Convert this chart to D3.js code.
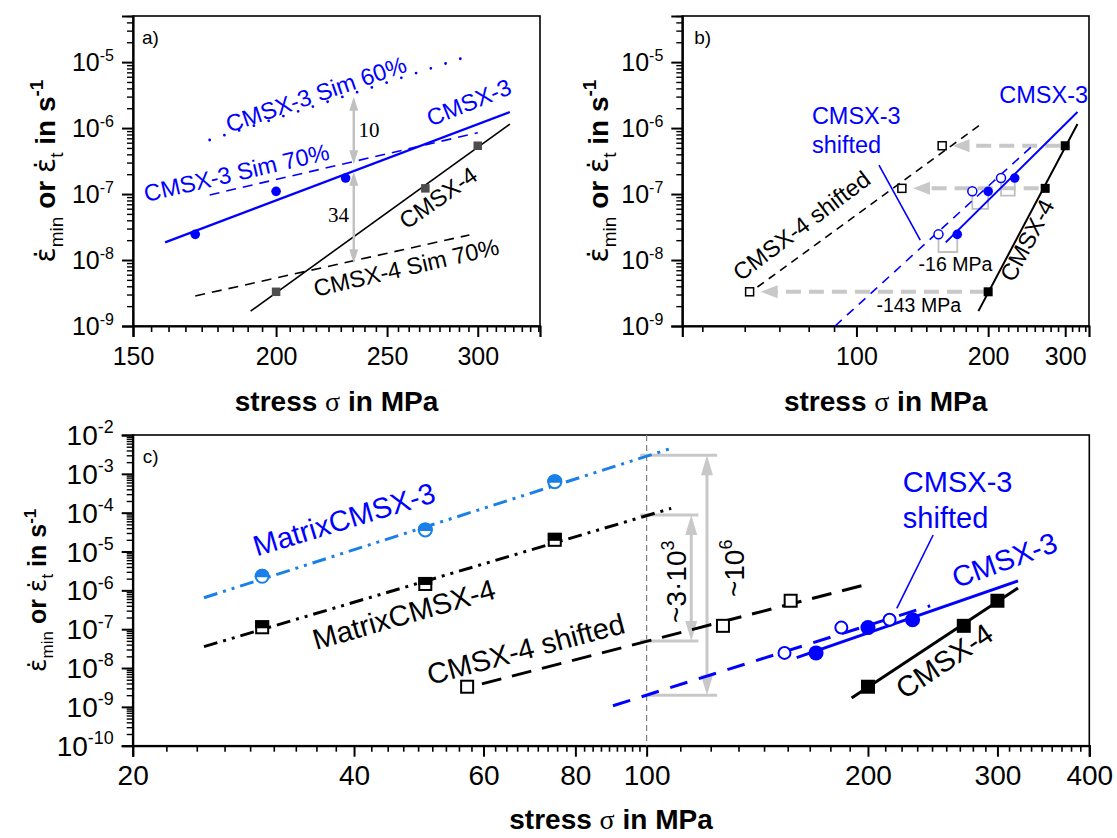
<!DOCTYPE html>
<html><head><meta charset="utf-8">
<script src="https://cdn.jsdelivr.net/npm/d3@7"></script>
<style>
body{margin:0;background:#fff;}
svg{display:block;font-family:"Liberation Sans",Arial,sans-serif;}
text{white-space:pre;}
</style></head><body>
<svg id="chart" width="1117" height="838"></svg>
<script>
// ===================== DATA =====================
// measured minimum creep rates (1/s) vs stress (MPa)
const cmsx3Stress = [170, 200, 230];
const cmsx3Rate   = [2.45e-8, 1.1e-7, 1.75e-7];
const cmsx4Stress = [200, 270, 300];
const cmsx4Rate   = [3.3e-9, 1.22e-7, 5.4e-7];
const cmsx3ShiftStress = [154, 184, 214];   // CMSX-3 shifted by -16 MPa
const cmsx4ShiftStress = [57, 127, 157];    // CMSX-4 shifted by -143 MPa
const matrix3Stress = [30, 50, 75];
const matrix3Rate   = [2.3e-6, 3.6e-5, 6.3e-4];
const matrix4Stress = [30, 50, 75];
const matrix4Rate   = [1.12e-7, 1.46e-6, 2.0e-5];

// fitted / simulated lines (end points)
const cmsx3FitStress = [160, 320];   const cmsx3FitRate = [1.85e-8, 1.75e-6];
const cmsx4FitStress = [190, 320];   const cmsx4FitRate = [1.68e-9, 1.15e-6];
const sim60C3Stress  = [175, 293];   const sim60C3Rate  = [6.6e-7, 1.2e-5];
const sim70C3Stress  = [175, 300];   const sim70C3Rate  = [9.7e-8, 8.5e-7];
const sim70C4Stress  = [170, 295];   const sim70C4Rate  = [2.85e-9, 2.4e-8];
const c3ShiftFitStressB = [89.4, 251];   const c3ShiftFitRateB = [1.0e-9, 5.2e-7];
const c4ShiftFitStressB = [59.4, 195.5]; const c4ShiftFitRateB = [3.9e-9, 1.23e-6];
const c3ShiftFitStressC = [90, 243];     const c3ShiftFitRateC = [1.07e-9, 4.0e-7];
const c4ShiftFitStressC = [59.7, 200];   const c4ShiftFitRateC = [3.9e-9, 1.45e-6];
const matrix3FitStress = [25, 108];  const matrix3FitRate = [6.46e-7, 4.54e-3];
const matrix4FitStress = [25, 108];  const matrix4FitRate = [3.55e-8, 1.29e-4];

// annotation values
const ratioArrowA = {stress: 233.8, upper: [2.98e-6, 2.82e-7], lower: [2.18e-7, 8.9e-9]};
const shiftArrowFrom = [196.6, 260.9, 292.2];
const shiftArrowTo   = [60.4, 134.7, 165.8];
const levelsC = [3.0e-3, 8.7e-5, 5.0e-8, 2.0e-9];

// tick labels
const xMajorA = [150, 200, 250, 300];
const xMajorB = [100, 200, 300];
const xMajorC = [20, 40, 60, 80, 100, 200, 300, 400];
const yExpAB = [-9, -8, -7, -6, -5];
const yExpC  = [-10, -9, -8, -7, -6, -5, -4, -3, -2];

// ===================== DRAWING =====================
const svg = d3.select("#chart");
const BLUE = "#0000ff", LBLUE = "#1a80e8";

function minorBetween(majors, lo, hi, n){
  const out = [];
  for (let i = 0; i < majors.length - 1; i++){
    const a = majors[i], b = majors[i+1], st = (b - a) / 9;
    for (let k = 1; k < 9; k++) out.push(a + k*st);
  }
  const st0 = n.before, st1 = n.after;
  for (let v = majors[0] - st0; v > lo; v -= st0) out.push(v);
  for (let v = majors[majors.length-1] + st1; v < hi; v += st1) out.push(v);
  return out.filter(v => v > lo && v < hi);
}
function yMinor(lo, hi){
  const out = [];
  for (let e = lo; e < hi; e++) for (let k = 2; k <= 9; k++) out.push(k*Math.pow(10,e));
  return out;
}

function panel(o){
  const x = d3.scaleLog().domain(o.xDomain).range(o.xRange);
  const y = d3.scaleLog().domain(o.yDomain).range(o.yRange);
  const g = svg.append("g");
  g.append("rect").attr("x", o.xRange[0]).attr("y", o.yRange[1])
    .attr("width", o.xRange[1]-o.xRange[0]).attr("height", o.yRange[0]-o.yRange[1])
    .attr("fill","none").attr("stroke","#000").attr("stroke-width",1.6);
  const b = o.yRange[0], l = o.xRange[0];
  g.append("g").attr("transform",`translate(0,${b})`)
    .call(d3.axisBottom(x).tickValues(o.xMinor).tickSize(6).tickFormat(""))
    .call(s=>{s.select(".domain").remove(); s.selectAll("line").attr("stroke-width",1.6);});
  g.append("g").attr("transform",`translate(0,${b})`)
    .call(d3.axisBottom(x).tickValues(o.xMajor).tickSize(11).tickPadding(o.xPad).tickFormat(d=>d))
    .call(s=>{s.select(".domain").attr("stroke-width",2.2);
      s.selectAll("line").attr("stroke-width",2);
      s.selectAll("text").attr("font-size",o.tickFs).attr("font-family","Liberation Sans, Arial, sans-serif").attr("fill","#000");});
  g.append("g").attr("transform",`translate(${l},0)`)
    .call(d3.axisLeft(y).tickValues(o.yMinor.filter(v=>v<=o.yDomain[1]*1.0001)).tickSize(6).tickFormat(""))
    .call(s=>{s.select(".domain").remove(); s.selectAll("line").attr("stroke-width",1.4);});
  const yMaj = o.yExp.map(e=>Math.pow(10,e));
  g.append("g").attr("transform",`translate(${l},0)`)
    .call(d3.axisLeft(y).tickValues(yMaj).tickSize(11).tickFormat(""))
    .call(s=>{s.select(".domain").attr("stroke-width",2.2); s.selectAll("line").attr("stroke-width",2);});
  const fs = o.tickFs;
  o.yExp.forEach(e=>{
    const t = g.append("text").attr("x", l - o.yLabGap).attr("y", y(Math.pow(10,e)) + fs*0.36)
      .attr("text-anchor","end").attr("font-size",fs);
    t.append("tspan").text("10");
    t.append("tspan").attr("font-size",fs*0.64).attr("dy",-fs*0.42).text("" + e);
  });
  const xt = svg.append("text").attr("x",(o.xRange[0]+o.xRange[1])/2).attr("y",o.xTitleY)
    .attr("text-anchor","middle").attr("font-size",o.titleFs).attr("font-weight","bold");
  xt.append("tspan").text("stress ");
  xt.append("tspan").attr("font-weight","normal").attr("font-family","Liberation Serif, serif").text("σ");
  xt.append("tspan").text(" in MPa");
  const yf = o.yTitleFs;
  const yt = svg.append("text").attr("transform",`translate(${o.yTitleX},${(o.yRange[0]+o.yRange[1])/2}) rotate(-90)`)
    .attr("text-anchor","middle").attr("font-size",yf).attr("font-weight","bold");
  yt.append("tspan").attr("font-weight","normal").attr("font-family","DejaVu Sans, sans-serif").text("ε\u0307");
  yt.append("tspan").attr("font-weight","normal").attr("font-size",yf*0.68).attr("dy",yf*0.28).text("min");
  yt.append("tspan").attr("dy",-yf*0.28).text(" or ");
  yt.append("tspan").attr("font-weight","normal").attr("font-family","DejaVu Sans, sans-serif").text("ε\u0307");
  yt.append("tspan").attr("font-weight","normal").attr("font-size",yf*0.68).attr("dy",yf*0.28).text("t");
  yt.append("tspan").attr("dy",-yf*0.28).text(" in s");
  yt.append("tspan").attr("font-size",yf*0.68).attr("dy",-yf*0.42).text("-1");
  svg.append("text").attr("x",o.xRange[0]+o.letterDx).attr("y",o.yRange[1]+o.letterDy)
    .attr("font-size",o.letterFs).text(o.letter);
  const plot = g.append("g");
  return {x, y, g: plot};
}

function line(P, xs, ys, color, width, dash, cap){
  const pts = xs.map((v,i)=>[v, ys[i]]);
  P.g.append("path").datum(pts)
    .attr("d", d3.line().x(d=>P.x(d[0])).y(d=>P.y(d[1])))
    .attr("fill","none").attr("stroke",color).attr("stroke-width",width)
    .attr("stroke-dasharray", dash || null).attr("stroke-linecap", cap || "butt");
}
function circles(P, xs, ys, r, color, open, sw){
  P.g.selectAll(null).data(xs.map((v,i)=>[v, ys[i]])).enter().append("circle")
    .attr("cx",d=>P.x(d[0])).attr("cy",d=>P.y(d[1])).attr("r",r)
    .attr("fill", open ? "#fff" : color).attr("stroke", color).attr("stroke-width", open ? sw : 0);
}
function squares(P, xs, ys, s, color, open, sw){
  P.g.selectAll(null).data(xs.map((v,i)=>[v, ys[i]])).enter().append("rect")
    .attr("x",d=>P.x(d[0])-s/2).attr("y",d=>P.y(d[1])-s/2).attr("width",s).attr("height",s)
    .attr("fill", open ? "#fff" : color).attr("stroke", color).attr("stroke-width", open ? sw : 0);
}
function halfCircles(P, xs, ys, r, color, sw){
  const d = xs.map((v,i)=>[v, ys[i]]);
  const gg = P.g.selectAll(null).data(d).enter().append("g")
    .attr("transform",p=>`translate(${P.x(p[0])},${P.y(p[1])})`);
  gg.append("circle").attr("r",r).attr("fill","#fff").attr("stroke",color).attr("stroke-width",sw);
  gg.append("path").attr("d",`M${-r},0A${r},${r} 0 0 1 ${r},0Z`).attr("fill",color).attr("stroke",color).attr("stroke-width",sw);
}
function halfSquares(P, xs, ys, s, color, sw){
  const d = xs.map((v,i)=>[v, ys[i]]);
  const gg = P.g.selectAll(null).data(d).enter().append("g")
    .attr("transform",p=>`translate(${P.x(p[0])},${P.y(p[1])})`);
  gg.append("rect").attr("x",-s/2).attr("y",-s/2).attr("width",s).attr("height",s).attr("fill","#fff").attr("stroke",color).attr("stroke-width",sw);
  gg.append("rect").attr("x",-s/2).attr("y",-s/2).attr("width",s).attr("height",s/2).attr("fill",color).attr("stroke",color).attr("stroke-width",sw);
}
function label(P, txt, s, r, angle, color, fs, family){
  const t = P.g.append("text").attr("transform",`translate(${P.x(s)},${P.y(r)}) rotate(${angle})`)
    .attr("font-size",fs).attr("fill",color);
  if (family) t.attr("font-family",family);
  if (Array.isArray(txt)) txt.forEach((ln,i)=>t.append("tspan").attr("x",0).attr("dy",i? fs*1.25 : 0).text(ln));
  else t.text(txt);
  return t;
}
function head(P, tx, ty, dx, dy, len, wid, color){
  const bx = tx - dx*len, by = ty - dy*len, nx = -dy, ny = dx;
  P.g.append("polygon").attr("points",
    `${tx},${ty} ${bx+nx*wid/2},${by+ny*wid/2} ${bx-nx*wid/2},${by-ny*wid/2}`).attr("fill",color);
}
function vDoubleArrow(P, s, r1, r2, color, w, len, wid){
  const xx = P.x(s), y1 = P.y(r1), y2 = P.y(r2);
  P.g.append("line").attr("x1",xx).attr("x2",xx).attr("y1",y1+len*0.8).attr("y2",y2-len*0.8)
    .attr("stroke",color).attr("stroke-width",w);
  head(P, xx, y1, 0, -1, len, wid, color);
  head(P, xx, y2, 0, 1, len, wid, color);
}

// ---------------- panel a ----------------
const A = panel({
  xDomain:[150,340], xRange:[133,540], yDomain:[1e-9,5e-5], yRange:[326,16],
  xMajor:xMajorA, xMinor:minorBetween(xMajorA,150,340,{before:50/9, after:50/9}),
  yExp:yExpAB, yMinor:yMinor(-9,-4), tickFs:25, xPad:10, yLabGap:19,
  titleFs:28, xTitleY:411, yTitleFs:28, yTitleX:55,
  letter:"a)", letterDx:9, letterDy:28, letterFs:19
});
line(A, sim60C3Stress, sim60C3Rate, BLUE, 2.8, "0,15.5", "round");
line(A, sim70C3Stress, sim70C3Rate, BLUE, 1.6, "10,7");
line(A, sim70C4Stress, sim70C4Rate, "#000", 1.6, "10,7");
line(A, cmsx3FitStress, cmsx3FitRate, BLUE, 2.2);
line(A, cmsx4FitStress, cmsx4FitRate, "#000", 1.6);
squares(A, cmsx4Stress, cmsx4Rate, 8.5, "#4d4d4d");
circles(A, cmsx3Stress, cmsx3Rate, 4.8, BLUE);
vDoubleArrow(A, ratioArrowA.stress, ratioArrowA.upper[0], ratioArrowA.upper[1], "#c0c0c0", 2.4, 14, 9);
vDoubleArrow(A, ratioArrowA.stress, ratioArrowA.lower[0], ratioArrowA.lower[1], "#c0c0c0", 2.4, 14, 9);
label(A, "10", 236, 7.4e-7, 0, "#000", 21, "Liberation Serif, serif");
label(A, "34", 222, 3.8e-8, 0, "#000", 21, "Liberation Serif, serif");
label(A, "CMSX-3 Sim 60%", 182, 8.5e-7, -19, BLUE, 23.5);
label(A, "CMSX-3", 273, 1.05e-6, -22, BLUE, 23.5);
label(A, "CMSX-3 Sim 70%", 154, 7.6e-8, -13, BLUE, 23.5);
label(A, "CMSX-4", 260, 2.85e-8, -35, "#000", 23.5);
label(A, "CMSX-4 Sim 70%", 216.6, 2.78e-9, -13, "#000", 23.5);

// ---------------- panel b ----------------
const B = panel({
  xDomain:[40,340], xRange:[682.3,1089], yDomain:[1e-9,5e-5], yRange:[326,16],
  xMajor:xMajorB, xMinor:minorBetween(xMajorB,40,340,{before:100/9, after:100/9}),
  yExp:yExpAB, yMinor:yMinor(-9,-4), tickFs:25, xPad:10, yLabGap:19,
  titleFs:28, xTitleY:411, yTitleFs:28, yTitleX:608,
  letter:"b)", letterDx:12, letterDy:28, letterFs:19
});
cmsx4Rate.forEach((r,i)=>{
  const x1 = B.x(shiftArrowFrom[i]), x2 = B.x(shiftArrowTo[i]), yy = B.y(r);
  B.g.append("line").attr("x1",x1).attr("x2",x2+16).attr("y1",yy).attr("y2",yy)
    .attr("stroke","#c8c8c8").attr("stroke-width",4).attr("stroke-dasharray","15,8");
  head(B, x2, yy, -1, 0, 17, 13, "#c8c8c8");
});
cmsx3Rate.forEach((r,i)=>{
  const xa = B.x(cmsx3ShiftStress[i]), xb = B.x(cmsx3Stress[i]), y0 = B.y(r), y1 = B.y(r/1.85);
  B.g.append("path").attr("d",`M${xa},${y0}V${y1}H${xb}V${y0}`).attr("fill","none")
    .attr("stroke","#c0c0c0").attr("stroke-width",1.8);
});
line(B, c4ShiftFitStressB, c4ShiftFitRateB, "#000", 1.6, "8,6");
line(B, c3ShiftFitStressB, c3ShiftFitRateB, BLUE, 1.6, "9,7");
line(B, cmsx3FitStress, cmsx3FitRate, BLUE, 2);
line(B, cmsx4FitStress, cmsx4FitRate, "#000", 2);
squares(B, cmsx4Stress, cmsx4Rate, 9, "#000");
squares(B, cmsx4ShiftStress, cmsx4Rate, 8, "#000", true, 1.5);
circles(B, cmsx3ShiftStress, cmsx3Rate, 4.5, BLUE, true, 1.5);
circles(B, cmsx3Stress, cmsx3Rate, 4.8, BLUE);
line(B, [112.6, 139.9], [2.75e-7, 2.01e-8], BLUE, 1.6);
label(B, "CMSX-3", 212, 2.37e-6, 0, BLUE, 23.5);
label(B, ["CMSX-3", "shifted"], 79.1, 1.15e-6, 0, BLUE, 23.5);
label(B, "CMSX-4 shifted", 54.4, 4.69e-9, -37, "#000", 23.5);
label(B, "CMSX-4", 228.6, 4.44e-9, -62, "#000", 23.5);
label(B, "-16 MPa", 138.7, 6.9e-9, 0, "#000", 19.5);
label(B, "-143 MPa", 111.1, 1.65e-9, 0, "#000", 19.5);

// ---------------- panel c ----------------
const C = panel({
  xDomain:[20,400], xRange:[132.7,1089.3], yDomain:[1e-10,1e-2], yRange:[745.7,435],
  xMajor:xMajorC, xMinor:minorBetween([20,40,60,80,100],20,100,{before:1,after:1})
    .concat(minorBetween([100,200,300,400],100,400,{before:1,after:1})),
  yExp:yExpC, yMinor:yMinor(-10,-2), tickFs:28, xPad:8, yLabGap:19,
  titleFs:28, xTitleY:829, yTitleFs:25, yTitleX:46,
  letter:"c)", letterDx:10, letterDy:28, letterFs:19
});
C.g.append("line").attr("x1",C.x(100)).attr("x2",C.x(100)).attr("y1",C.y(1e-2)).attr("y2",C.y(1e-10))
  .attr("stroke","#808080").attr("stroke-width",1.2).attr("stroke-dasharray","6,4");
[[98,124.7],[98,117.6],[98,117.6],[100.2,124.7]].forEach((xr,i)=>{
  C.g.append("line").attr("x1",C.x(xr[0])).attr("x2",C.x(xr[1])).attr("y1",C.y(levelsC[i])).attr("y2",C.y(levelsC[i]))
    .attr("stroke","#c8c8c8").attr("stroke-width",3);
});
vDoubleArrow(C, 120.8, levelsC[0], levelsC[3], "#c8c8c8", 3, 20, 12);
vDoubleArrow(C, 115, levelsC[1], levelsC[2], "#c8c8c8", 3, 20, 12);
line(C, matrix3FitStress, matrix3FitRate, LBLUE, 3, "14,6,3,6,3,6");
line(C, matrix4FitStress, matrix4FitRate, "#000", 3, "14,6,3,6,3,6");
line(C, c4ShiftFitStressC, c4ShiftFitRateC, "#000", 3, "20,11");
line(C, c3ShiftFitStressC, c3ShiftFitRateC, BLUE, 3, "18,12");
line(C, cmsx3FitStress, cmsx3FitRate, BLUE, 3);
line(C, cmsx4FitStress, cmsx4FitRate, "#000", 3);
halfCircles(C, matrix3Stress, matrix3Rate, 6.5, LBLUE, 2);
halfSquares(C, matrix4Stress, matrix4Rate, 12, "#000", 2);
squares(C, cmsx4ShiftStress, cmsx4Rate, 12, "#000", true, 2);
circles(C, cmsx3ShiftStress, cmsx3Rate, 6, BLUE, true, 2);
squares(C, cmsx4Stress, cmsx4Rate, 14, "#000");
circles(C, cmsx3Stress, cmsx3Rate, 7.5, BLUE);
line(C, [245.3, 218.9], [2.66e-5, 3.45e-7], BLUE, 1.6);
label(C, "MatrixCMSX-3", 29.5, 7.4e-6, -17, BLUE, 29);
label(C, "MatrixCMSX-4", 35.5, 2.9e-8, -16, "#000", 29);
label(C, "CMSX-4 shifted", 50.8, 3.65e-9, -15, "#000", 29);
label(C, "CMSX-3", 263.8, 1.13e-6, -20, BLUE, 29);
label(C, "CMSX-4", 224.3, 1.5e-9, -34, "#000", 29);
label(C, ["CMSX-3", "shifted"], 223.1, 3.47e-4, 0, BLUE, 29);
const r1 = C.g.append("text").attr("transform",`translate(${C.x(113.1)},${C.y(1.67e-6)}) rotate(-90)`)
  .attr("text-anchor","middle").attr("font-size",28);
r1.append("tspan").text("~3·10"); r1.append("tspan").attr("font-size",18).attr("dy",-12).text("3");
const r2 = C.g.append("text").attr("transform",`translate(${C.x(135.7)},${C.y(3.69e-6)}) rotate(-90)`)
  .attr("text-anchor","middle").attr("font-size",28);
r2.append("tspan").text("~10"); r2.append("tspan").attr("font-size",18).attr("dy",-12).text("6");
</script></body></html>
